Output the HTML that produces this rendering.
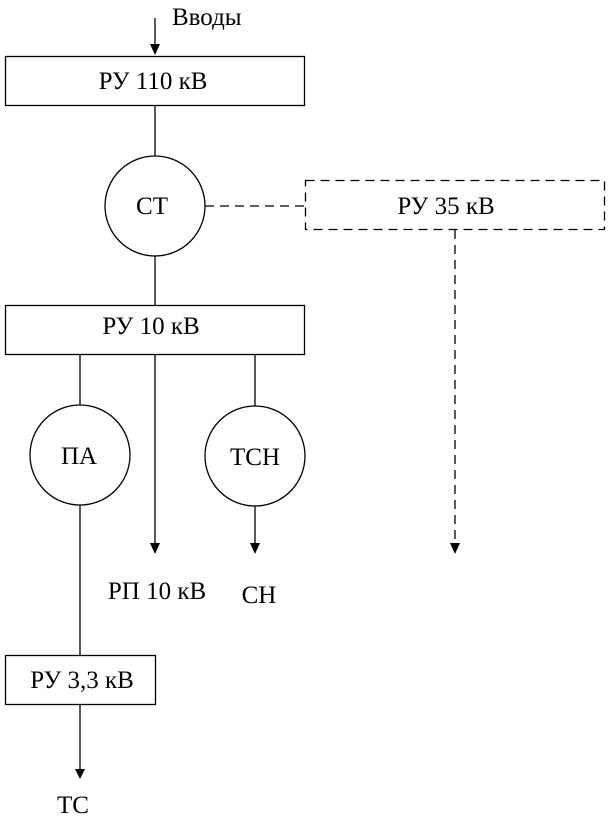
<!DOCTYPE html>
<html><head><meta charset="utf-8"><style>
html,body{margin:0;padding:0;background:#fff;}
svg{display:block;}
text{font-family:"Liberation Serif",serif;font-size:25px;fill:#000;}
</style></head><body>
<svg width="609" height="821" viewBox="0 0 609 821" xmlns="http://www.w3.org/2000/svg">
<g stroke="#000" stroke-width="1.3" fill="none">
<line x1="155" y1="18" x2="155" y2="48"/>
<rect x="5.5" y="56.5" width="299" height="49" fill="#fff"/>
<line x1="155" y1="106" x2="155" y2="156"/>
<circle cx="155" cy="206" r="50" fill="#fff"/>
<line x1="205" y1="206" x2="305" y2="206" stroke-dasharray="9,6"/>
<rect x="305.5" y="180.5" width="299" height="49" stroke-dasharray="9,6"/>
<line x1="455" y1="230" x2="455" y2="546" stroke-dasharray="9,6"/>
<line x1="155" y1="256" x2="155" y2="305"/>
<rect x="5.5" y="305.5" width="299" height="49" fill="#fff"/>
<line x1="80" y1="355" x2="80" y2="405"/>
<circle cx="80" cy="455" r="50" fill="#fff"/>
<line x1="80" y1="505" x2="80" y2="655"/>
<line x1="155" y1="355" x2="155" y2="546"/>
<line x1="255" y1="355" x2="255" y2="406"/>
<circle cx="255" cy="456" r="50" fill="#fff"/>
<line x1="255" y1="506" x2="255" y2="546"/>
<rect x="5.5" y="655.5" width="150" height="49" fill="#fff"/>
<line x1="80" y1="705" x2="80" y2="772"/>
</g>
<g fill="#000">
<path d="M150,44 L160,44 L155,55 Z"/>
<path d="M150,543 L160,543 L155,554 Z"/>
<path d="M250,543 L260,543 L255,554 Z"/>
<path d="M450,543 L460,543 L455,554 Z"/>
<path d="M75,769 L85,769 L80,779 Z"/>
</g>
<text x="172" y="25">Вводы</text>
<text x="153" y="89" text-anchor="middle">РУ 110 кВ</text>
<text x="152" y="214" text-anchor="middle">СТ</text>
<text x="446" y="214" text-anchor="middle">РУ 35 кВ</text>
<text x="151" y="334" text-anchor="middle">РУ 10 кВ</text>
<text x="79" y="464" text-anchor="middle">ПА</text>
<text x="255" y="465" text-anchor="middle">ТСН</text>
<text x="157" y="599" text-anchor="middle">РП 10 кВ</text>
<text x="259" y="603" text-anchor="middle">СН</text>
<text x="82" y="688" text-anchor="middle">РУ 3,3 кВ</text>
<text x="73" y="813" text-anchor="middle">ТС</text>
</svg>
</body></html>
